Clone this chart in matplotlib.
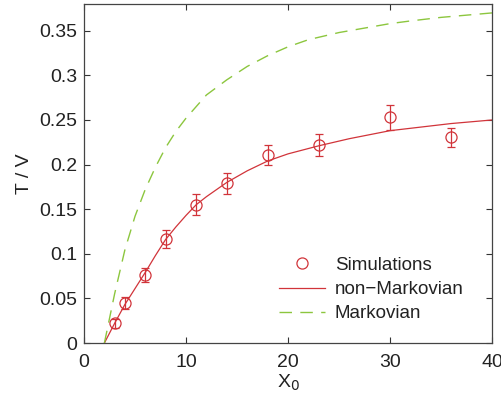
import matplotlib
matplotlib.use("Agg")
import matplotlib.pyplot as plt
from matplotlib.lines import Line2D

plt.rcParams['font.family'] = ['Liberation Sans', 'DejaVu Sans']

# Simulation data
sim_x = [3, 4, 6, 8, 11, 14, 18, 23, 30, 36]
sim_y = [0.022, 0.045, 0.076, 0.117, 0.155, 0.179, 0.211, 0.222, 0.253, 0.2305]
sim_err = [0.005, 0.007, 0.008, 0.010, 0.012, 0.012, 0.0115, 0.012, 0.014, 0.011]

# non-Markovian curve
nm_x = [2, 3, 4, 5, 6, 7, 8, 9, 10, 11, 12, 14, 16, 18, 20, 23, 26, 30, 33, 36, 40]
nm_y = [0, 0.022, 0.043, 0.061, 0.079, 0.098, 0.116, 0.130, 0.143, 0.155, 0.164,
        0.180, 0.193, 0.204, 0.212, 0.221, 0.229, 0.238, 0.242, 0.246, 0.250]

# Markovian curve
m_x = [2, 3, 4, 5, 6, 7, 8, 9, 10, 11, 12, 14, 16, 18, 20, 22, 25, 28, 30, 32, 35, 38, 40]
m_y = [0, 0.055, 0.104, 0.142, 0.172, 0.197, 0.219, 0.237, 0.252, 0.265, 0.278,
       0.295, 0.310, 0.322, 0.332, 0.340, 0.348, 0.354, 0.358, 0.361, 0.365, 0.368, 0.370]

x_ticks = [0, 10, 20, 30, 40]
y_ticks = [0, 0.05, 0.1, 0.15, 0.2, 0.25, 0.3, 0.35]
y_tick_labels = ["0", "0.05", "0.1", "0.15", "0.2", "0.25", "0.3", "0.35"]

red = "#d1343a"
green = "#8cc63e"

fig = plt.figure(figsize=(5.02, 4.03), dpi=100)
ax = fig.add_axes([84 / 502, 1 - 343 / 403, (492 - 84) / 502, (343 - 4) / 403])

ax.errorbar(sim_x, sim_y, yerr=sim_err, fmt='o', mfc='none', mec=red, ecolor=red,
            ms=8, mew=0.9, elinewidth=0.9, capsize=3, capthick=0.9,
            label="Simulations", zorder=3)
nm_line, = ax.plot(nm_x, nm_y, color=red, lw=0.9, label="non\u2212Markovian")
m_line, = ax.plot(m_x, m_y, color=green, lw=1.0, dashes=(9, 6), label="Markovian")

ax.set_xlim(0, 40)
ax.set_ylim(0, 0.38)
ax.set_xticks(x_ticks)
ax.set_yticks(y_ticks)
ax.set_yticklabels(y_tick_labels)
ax.tick_params(direction='in', top=True, right=True, length=4, width=0.8,
               labelsize=14, colors='#333333', labelcolor='#222222')
ax.tick_params(axis='x', pad=8)
ax.tick_params(axis='y', pad=5)
for s in ax.spines.values():
    s.set_color('#444444')
    s.set_linewidth(0.9)

ax.set_xlabel("X$_0$", fontsize=14, color='#222222', labelpad=1)
ax.set_ylabel("T / V", fontsize=14, color='#222222', labelpad=4)

sim_handle = Line2D([], [], marker='o', ls='none', mfc='none', mec=red, ms=8, mew=0.9)
leg = ax.legend([sim_handle, nm_line, m_line],
                ["Simulations", "non\u2212Markovian", "Markovian"],
                loc='lower right', bbox_to_anchor=(0.972, 0.011), frameon=False,
                fontsize=13.5, handlelength=2.5, handletextpad=0.5,
                labelspacing=0.38)
for t in leg.get_texts():
    t.set_color('#222222')

fig.savefig("out.png", dpi=100)
